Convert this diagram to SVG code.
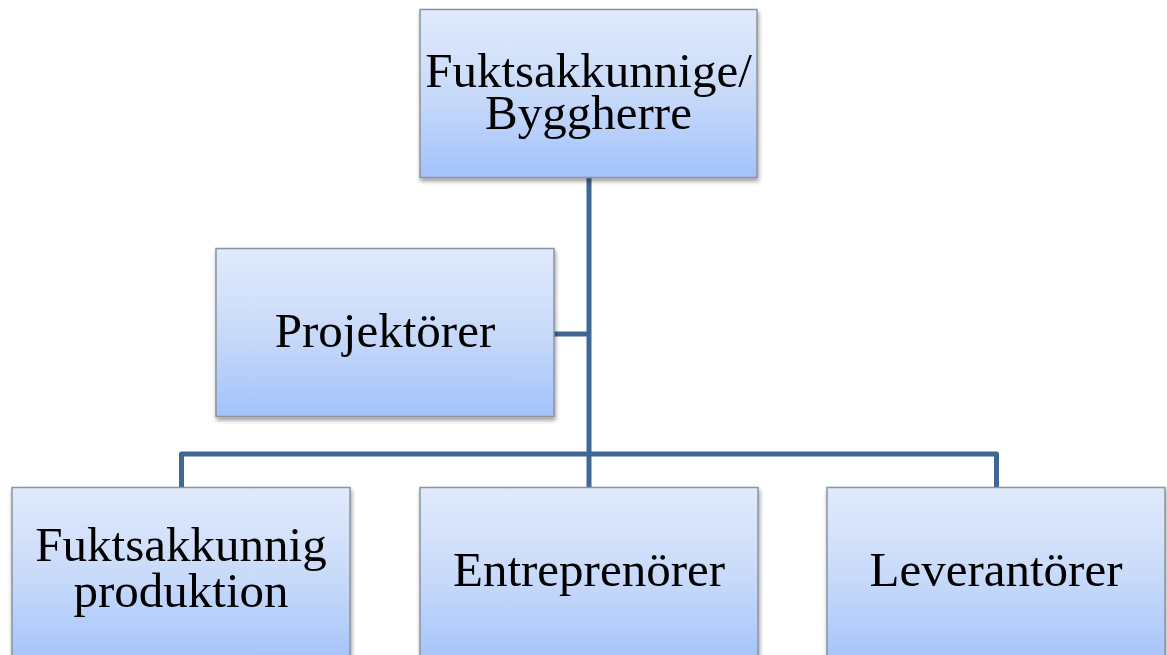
<svg xmlns="http://www.w3.org/2000/svg" width="1167" height="655" viewBox="0 0 1167 655">
  <defs>
    <linearGradient id="boxFill" x1="0" y1="0" x2="0" y2="1">
      <stop offset="0" stop-color="#e1eafc"/>
      <stop offset="0.5" stop-color="#c8daf9"/>
      <stop offset="1" stop-color="#a3c2fb"/>
    </linearGradient>
    <filter id="shadow" x="-5%" y="-5%" width="112%" height="115%">
      <feGaussianBlur in="SourceAlpha" stdDeviation="2"/>
      <feOffset dx="1" dy="3" result="b"/>
      <feComponentTransfer><feFuncA type="linear" slope="0.4"/></feComponentTransfer>
      <feMerge><feMergeNode/><feMergeNode in="SourceGraphic"/></feMerge>
    </filter>
  </defs>
  <style>
    .box { fill: url(#boxFill); stroke: #8a949e; stroke-width: 1.5; filter: url(#shadow); }
    .label { font-family: "Liberation Serif", "DejaVu Serif", serif; font-size: 49px; fill: #000; text-anchor: middle; }
    .link { fill: none; stroke: #406693; stroke-width: 5; stroke-linejoin: round; }
  </style>
  <rect width="1167" height="655" fill="#fff"/>

  <g id="connectors">
    <path class="link" d="M589 177 V488"/>
    <path class="link" d="M554 334 H589"/>
    <path class="link" d="M181.5 488 V454 H996.5 V488"/>
  </g>

  <g id="node-byggherre">
    <rect class="box" x="420" y="9.5" width="337" height="168"/>
    <text class="label" x="588.5" y="87">Fuktsakkunnige/</text>
    <text class="label" x="588.5" y="129">Byggherre</text>
  </g>

  <g id="node-projektorer">
    <rect class="box" x="216" y="248.5" width="338" height="168"/>
    <text class="label" x="385" y="347">Projektörer</text>
  </g>

  <g id="node-fuktsakkunnig-produktion">
    <rect class="box" x="12" y="487.5" width="338" height="180"/>
    <text class="label" x="181" y="561">Fuktsakkunnig</text>
    <text class="label" x="181" y="607">produktion</text>
  </g>

  <g id="node-entreprenorer">
    <rect class="box" x="420" y="487.5" width="338" height="180"/>
    <text class="label" x="589" y="586">Entreprenörer</text>
  </g>

  <g id="node-leverantorer">
    <rect class="box" x="827" y="487.5" width="338" height="180"/>
    <text class="label" x="996" y="586">Leverantörer</text>
  </g>
</svg>
